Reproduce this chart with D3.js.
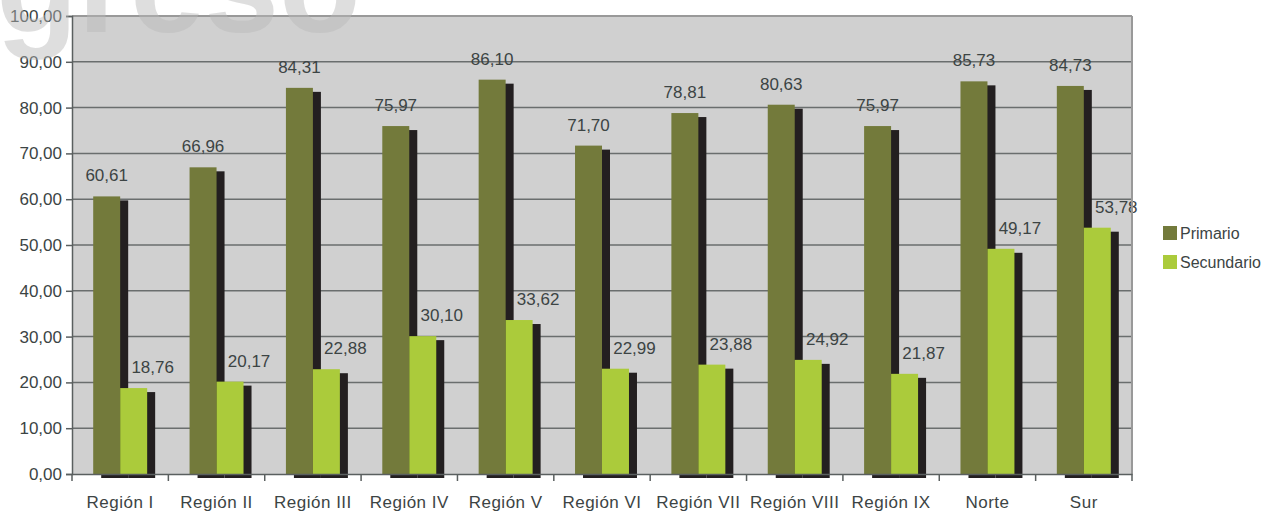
<!DOCTYPE html>
<html><head><meta charset="utf-8">
<script src="https://cdn.jsdelivr.net/npm/d3@7"></script>
<style>body{margin:0;background:#fff}svg{display:block;font-family:"Liberation Sans",Arial,sans-serif}</style>
</head><body>
<svg id="c" width="1285" height="517"></svg>
<script>
const categories = ["Región I","Región II","Región III","Región IV","Región V","Región VI","Región VII","Región VIII","Región IX","Norte","Sur"];
const seriesNames = ["Primario","Secundario"];
const primario = [60.61,66.96,84.31,75.97,86.10,71.70,78.81,80.63,75.97,85.73,84.73];
const secundario = [18.76,20.17,22.88,30.10,33.62,22.99,23.88,24.92,21.87,49.17,53.78];
const yTicks = [0,10,20,30,40,50,60,70,80,90,100];

const colors = {Primario:"#737a3b", Secundario:"#abcb3b"};
const shadow = "#231f20";
const txt = "#3c4444";
const svg = d3.select("#c");
const L=72,R=1132,T=16,B=474;
const x = d3.scaleBand().domain(categories).range([L,R]).padding(0);
const bw = x.bandwidth();
const x1 = d3.scaleBand().domain(seriesNames).range([bw*0.22,bw*0.78]).padding(0);
const y = d3.scaleLinear().domain([0,100]).range([B,T]);
const fmt = v => d3.format(".2f")(v).replace(".",",");
const data = categories.map((c,i)=>({c, vals:[{s:"Primario",v:primario[i]},{s:"Secundario",v:secundario[i]}]}));

svg.append("rect").attr("x",L).attr("y",T).attr("width",R-L).attr("height",B-T).attr("fill","#d0d0d0");
// gridlines
svg.append("g").selectAll("line").data(yTicks.filter(d=>d>0)).join("line")
  .attr("x1",L).attr("x2",R).attr("y1",d=>y(d)).attr("y2",d=>y(d))
  .attr("stroke","#6a6e6e").attr("stroke-width",1.5);

const g = svg.append("g").selectAll("g").data(data).join("g").attr("transform",d=>`translate(${x(d.c)},0)`);
// shadows
g.selectAll("rect.sh").data(d=>d.vals).join("rect").attr("class","sh")
  .attr("x",d=>x1(d.s)+8).attr("y",d=>y(d.v)+4).attr("width",x1.bandwidth()).attr("height",d=>B-y(d.v))
  .attr("fill",shadow);
g.selectAll("rect.b").data(d=>d.vals).join("rect").attr("class","b")
  .attr("x",d=>x1(d.s)).attr("y",d=>y(d.v)).attr("width",x1.bandwidth()).attr("height",d=>B-y(d.v))
  .attr("fill",d=>colors[d.s]);
// value labels
g.selectAll("text").data(d=>d.vals).join("text")
  .attr("x",d=>x1(d.s)+x1.bandwidth()/2+(d.s==="Secundario"?19:0))
  .attr("y",d=>y(d.v)-15)
  .attr("text-anchor","middle").attr("font-size",17).attr("fill",txt).text(d=>fmt(d.v));

// border
svg.append("line").attr("x1",R).attr("x2",R).attr("y1",T).attr("y2",B).attr("stroke","#999").attr("stroke-width",2);
svg.append("line").attr("x1",L).attr("x2",R).attr("y1",T).attr("y2",T).attr("stroke","#999").attr("stroke-width",2);

// y axis
const ya = svg.append("g").attr("transform",`translate(${L},0)`)
  .call(d3.axisLeft(y).tickValues(yTicks).tickFormat(fmt).tickSize(6).tickPadding(4));
ya.select(".domain").attr("stroke","#5a5f5f").attr("stroke-width",1.5);
ya.selectAll(".tick line").attr("stroke","#5a5f5f").attr("stroke-width",1.5);
ya.selectAll("text").attr("font-size",17).attr("fill",txt).attr("font-family","Liberation Sans, Arial, sans-serif");

// x axis
const xa = svg.append("g").attr("transform",`translate(0,${B})`)
  .call(d3.axisBottom(x).tickSize(0).tickPadding(22));
xa.select(".domain").attr("stroke","#5a5f5f").attr("stroke-width",1.5);
xa.selectAll("text").attr("font-size",17).attr("fill",txt).attr("letter-spacing","0.5px").attr("font-family","Liberation Sans, Arial, sans-serif");
svg.append("g").selectAll("line").data(categories.map(c=>x(c)).concat([R])).join("line")
  .attr("x1",d=>d).attr("x2",d=>d).attr("y1",B).attr("y2",B+7).attr("stroke","#5a5f5f").attr("stroke-width",1.5);

// legend
const lg = svg.append("g").selectAll("g").data(seriesNames).join("g")
  .attr("transform",(d,i)=>`translate(1163,${226+i*29})`);
lg.append("rect").attr("width",14).attr("height",14).attr("fill",d=>colors[d]);
lg.append("text").attr("x",17).attr("y",12.5).attr("font-size",16).attr("fill",txt).text(d=>d);

// watermark title fragment
svg.append("text").attr("x",-4).attr("y",32).attr("font-size",134).attr("font-weight","bold")
  .attr("fill","#b8b8b8").attr("opacity",0.45).text("greso");
</script>
</body></html>
